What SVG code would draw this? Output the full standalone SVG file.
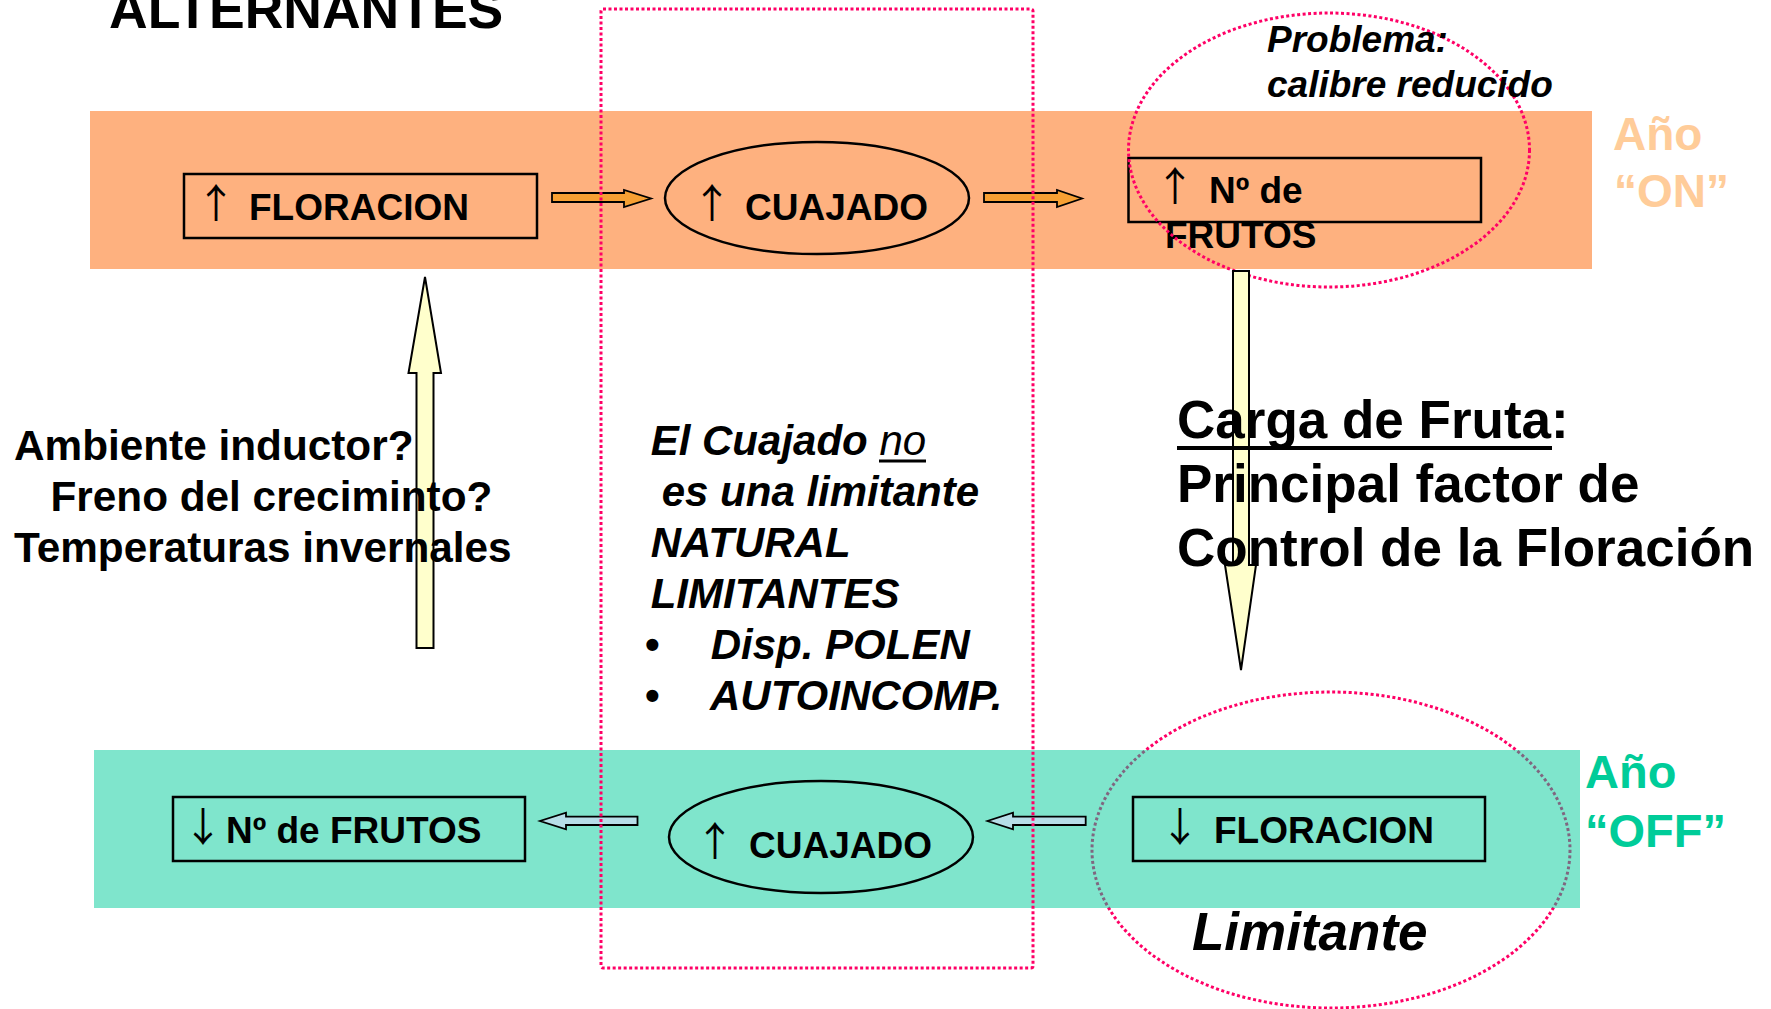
<svg xmlns="http://www.w3.org/2000/svg" width="1771" height="1009" viewBox="0 0 1771 1009">
<style>
text{font-family:"Liberation Sans",Arial,sans-serif;font-weight:bold;fill:#000}
.box{fill:none;stroke:#000;stroke-width:2.5}
.ell{fill:none;stroke:#000;stroke-width:2.5}
.lbl{font-size:37px}
.arw{font-family:"Noto Sans CJK SC","DejaVu Sans",sans-serif;font-weight:normal;font-size:40px;text-anchor:middle}
.dot{fill:none;stroke:#FF0066;stroke-width:3;stroke-dasharray:3 2.5}
.orarr{fill:#F7A033;stroke:#000;stroke-width:1.8}
.bluarr{fill:#B7DEE8;stroke:#000;stroke-width:1.8}
.yelarr{fill:#FFFFCC;stroke:#000;stroke-width:2}
.it{font-style:italic}
</style>
<rect x="0" y="0" width="1771" height="1009" fill="#fff"/>
<text x="109" y="28" font-size="53.5">ALTERNANTES</text>
<!-- bands -->
<rect id="band-on" x="90" y="111" width="1502" height="158" fill="#FEB17F"/>
<ellipse id="limitante-circle" class="dot" cx="1331" cy="850" rx="239" ry="158"/>
<rect id="band-off" x="94" y="750" width="1486" height="158" fill="#00CC99" fill-opacity="0.5"/>
<!-- top row nodes -->
<g id="node-floracion-up">
<rect class="box" x="184" y="174" width="353" height="64"/>
<text class="arw" x="216" y="218">↑</text>
<text class="lbl" x="249" y="220">FLORACION</text>
</g>
<g id="node-cuajado-up">
<ellipse class="ell" cx="817" cy="198" rx="152" ry="56"/>
<text class="arw" x="712" y="218">↑</text>
<text class="lbl" x="745" y="220">CUAJADO</text>
</g>
<g id="node-frutos-up">
<rect class="box" x="1128.5" y="158" width="352.5" height="64"/>
<text class="arw" x="1175" y="201">↑</text>
<text class="lbl" x="1209" y="203">Nº de</text>
<text class="lbl" x="1165" y="248">FRUTOS</text>
</g>
<g id="problema">
<ellipse class="dot" cx="1329" cy="150" rx="200.5" ry="137"/>
<text class="it" font-size="37" x="1267" y="52">Problema:</text>
<text class="it" font-size="37" x="1267" y="97">calibre reducido</text>
</g>
<g id="label-on">
<text font-size="46" x="1613" y="150" style="fill:#FFCC99">Año</text>
<text font-size="46" x="1614" y="207" style="fill:#FFCC99">“ON”</text>
</g>
<!-- bottom row nodes -->
<g id="node-frutos-down">
<rect class="box" x="173" y="797" width="352" height="64"/>
<text class="arw" x="203" y="841">↓</text>
<text class="lbl" x="226" y="843">Nº de FRUTOS</text>
</g>
<g id="node-cuajado-down">
<ellipse class="ell" cx="821" cy="837" rx="152" ry="56"/>
<text class="arw" x="715" y="856">↑</text>
<text class="lbl" x="749" y="858">CUAJADO</text>
</g>
<g id="node-floracion-down">
<rect class="box" x="1133" y="797" width="352" height="64"/>
<text class="arw" x="1180" y="841">↓</text>
<text class="lbl" x="1214" y="843">FLORACION</text>
<text class="it" font-size="53" x="1192" y="950">Limitante</text>
</g>
<g id="label-off">
<text font-size="47" x="1585" y="788" style="fill:#00CC99">Año</text>
<text font-size="47" x="1585" y="847" style="fill:#00CC99">“OFF”</text>
</g>
<!-- connectors -->
<g id="connectors">
<polygon class="orarr" points="552,193 624,193 624,190 651,198.5 624,207 624,202 552,202"/>
<polygon class="orarr" points="984,193 1057,193 1057,190 1082,198.5 1057,207 1057,202 984,202"/>
<polygon class="bluarr" points="637.5,816.7 566,816.7 566,812.7 540,821 566,829.3 566,825 637.5,825"/>
<polygon class="bluarr" points="1085.7,816.7 1013,816.7 1013,812.7 987.5,821 1013,829.3 1013,825 1085.7,825"/>
<polygon class="yelarr" points="416.5,648 416.5,373 408.5,373 425,277 441,373 433.5,373 433.5,648"/>
<polygon class="yelarr" points="1233,271 1249,271 1249,565 1256,565 1241,670 1225,565 1233,565"/>
</g>
<!-- left annotation -->
<g id="ambiente">
<text x="14" y="460" font-size="42.3">Ambiente inductor?</text>
<text x="50.5" y="511" font-size="42.3">Freno del creciminto?</text>
<text x="14" y="562" font-size="42.3">Temperaturas invernales</text>
</g>
<!-- middle annotation -->
<g id="cuajado-note">
<text class="it" x="650.7" y="455" font-size="42">El Cuajado <tspan font-weight="normal">no</tspan></text>
<line x1="879" y1="461" x2="926" y2="461" stroke="#000" stroke-width="3"/>
<text class="it" x="661.7" y="506" font-size="42">es una limitante</text>
<text class="it" x="650.7" y="557" font-size="42">NATURAL</text>
<text class="it" x="650.7" y="608" font-size="42">LIMITANTES</text>
<text x="645" y="659" font-size="42">•</text>
<text class="it" x="710.7" y="659" font-size="42">Disp. POLEN</text>
<text x="645" y="710" font-size="42">•</text>
<text class="it" x="710" y="710" font-size="42">AUTOINCOMP.</text>
</g>
<rect id="cuajado-frame" class="dot" x="601" y="9" width="432" height="959" rx="2"/>
<!-- right annotation -->
<g id="carga">
<text x="1177" y="438" font-size="53">Carga de Fruta:</text>
<line x1="1177" y1="448" x2="1552" y2="448" stroke="#000" stroke-width="4"/>
<text x="1177" y="502" font-size="53">Principal factor de</text>
<text x="1177" y="566" font-size="53">Control de la Floración</text>
</g>
</svg>
